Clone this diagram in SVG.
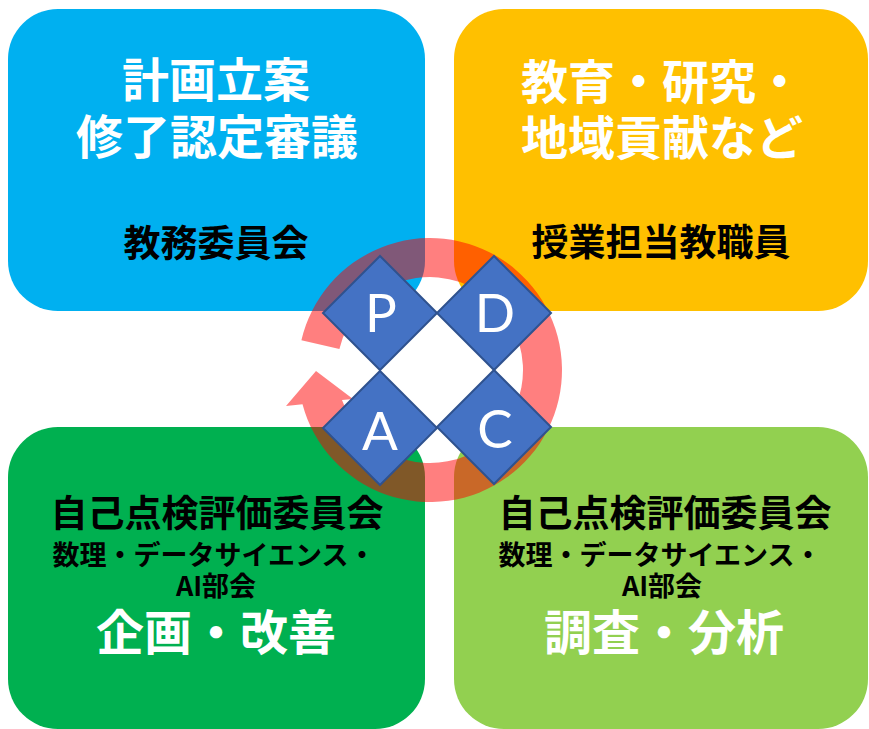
<svg xmlns="http://www.w3.org/2000/svg" width="869" height="729" viewBox="0 0 869 729">
<style>
.box{stroke:none}
.jp{font-family:"Noto Sans CJK JP","Noto Sans CJK SC",sans-serif;font-weight:bold;text-anchor:middle}
.big{font-size:47px;fill:#FFFFFF}
.mid{font-size:37px;fill:#000000}
.sm{font-size:27px;fill:#000000}
.dia{fill:#4472C4;stroke:#2F528F;stroke-width:2}
.let{font-family:Lato,"Open Sans",sans-serif;font-size:53px;fill:#FFFFFF;text-anchor:middle}
.ring{fill:#FF0000;fill-opacity:0.5}
</style>
<rect width="869" height="729" fill="#FFFFFF"/>
<g id="plan">
<rect class="box" x="8" y="9" width="417" height="302" rx="50" fill="#00B0F0"/>
<text class="jp big" x="216" y="97">計画立案</text>
<text class="jp big" x="217" y="154">修了認定審議</text>
<text class="jp mid" x="216" y="257">教務委員会</text>
</g>
<g id="do">
<rect class="box" x="454" y="9" width="414" height="302" rx="50" fill="#FFC000"/>
<text class="jp big" x="662" y="99">教育・研究・</text>
<text class="jp big" x="662" y="155">地域貢献など</text>
<text class="jp mid" x="661" y="256">授業担当教職員</text>
</g>
<g id="act">
<rect class="box" x="8" y="427" width="417" height="302" rx="50" fill="#00B050"/>
<text class="jp mid" x="217" y="527">自己点検評価委員会</text>
<text class="jp sm" x="214" y="565">数理・データサイエンス・</text>
<text class="jp sm" x="216" y="596">AI部会</text>
<text class="jp big" x="216" y="650" style="font-size:48px">企画・改善</text>
</g>
<g id="check">
<rect class="box" x="454" y="427" width="414" height="302" rx="50" fill="#92D050"/>
<text class="jp mid" x="665" y="527">自己点検評価委員会</text>
<text class="jp sm" x="660" y="565">数理・データサイエンス・</text>
<text class="jp sm" x="662" y="596">AI部会</text>
<text class="jp big" x="664" y="650" style="font-size:48px">調査・分析</text>
</g>
<g id="connectors">
<path class="ring" d="M301.4,340.3 A132,132 0 1 1 302.5,404.3 L286,406 L316,371 L353,399 L342,400.1 A93,93 0 1 0 339.4,349.1 Z"/>
</g>
<g id="node-P">
<polygon class="dia" points="380,256 437,313 380,370 323,313"/>
<text class="let" x="381" y="332">P</text>
</g>
<g id="node-D">
<polygon class="dia" points="494,256 551,313 494,370 437,313"/>
<text class="let" x="495" y="332">D</text>
</g>
<g id="node-A">
<polygon class="dia" points="380,371 437,428 380,485 323,428"/>
<text class="let" x="380" y="450">A</text>
</g>
<g id="node-C">
<polygon class="dia" points="494,370 551,427 494,484 437,427"/>
<text class="let" x="495" y="448">C</text>
</g>
</svg>
